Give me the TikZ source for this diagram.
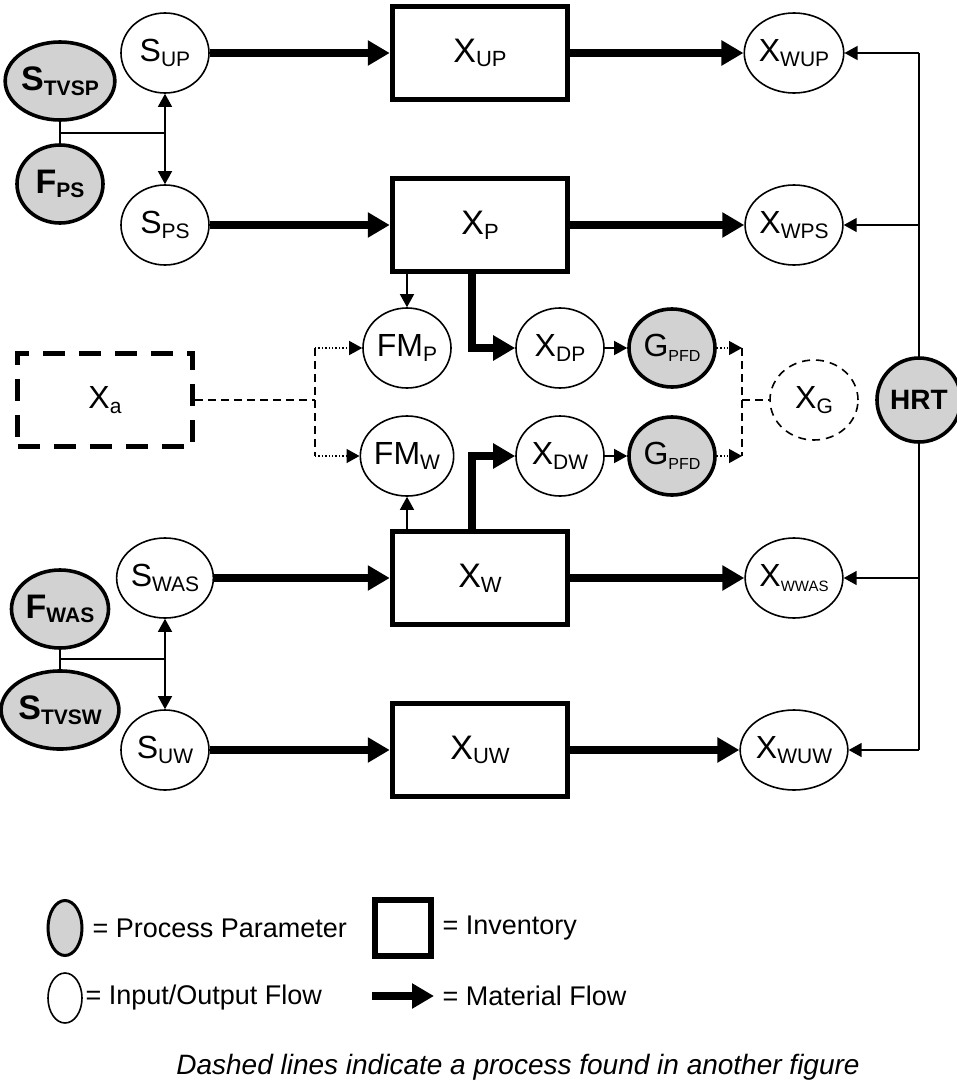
\documentclass[tikz,border=0pt]{standalone}
\usepackage{fontspec}
\setmainfont{Liberation Sans}
\usetikzlibrary{shapes.geometric,arrows.meta,positioning}

\newcommand{\lbl}[3][21]{#2\raisebox{-0.14em}{\fontsize{#1}{#1}\selectfont #3}}

\begin{document}
\begin{tikzpicture}[x=1pt,y=-1pt,
                flow/.style={ellipse,draw=black,line width=1.6pt,fill=white,minimum width=88pt,minimum height=80pt,inner sep=0pt,font=\fontsize{32}{34}\selectfont},
                param/.style={ellipse,draw=black,line width=3.6pt,fill=gray!35,minimum width=86pt,minimum height=78pt,inner sep=0pt,font=\fontsize{34}{36}\selectfont\bfseries},
                inv/.style={rectangle,draw=black,line width=5.5pt,fill=white,minimum width=175pt,minimum height=93pt,font=\fontsize{34}{36}\selectfont},
                mat/.style={line width=7.5pt,-{Triangle[length=22pt,width=24pt]}},
                sig/.style={line width=1.4pt,-{Triangle[length=13pt,width=14pt]}},
                dots/.style={line width=1.4pt,dash pattern=on 1.4pt off 2pt,-{Triangle[length=13pt,width=14pt]}},
                other/.style={line width=1.4pt,dash pattern=on 8pt off 5pt},
                key/.style={anchor=west,font=\fontsize{27}{29}\selectfont},
            ]
                \useasboundingbox (0,0) rectangle (956,1092);

                \node[param] (stvsp) at (60,81) {\lbl{S}{\bfseries TVSP}};
                \node[param] (fps) at (60,184) {\lbl{F}{\bfseries PS}};
                \node[flow] (sup) at (165,53) {\lbl{S}{UP}};
                \node[flow] (sps) at (165,225) {\lbl{S}{PS}};
                \node[inv] (xup) at (480,53) {\lbl[22]{X}{UP}};
                \node[inv] (xp) at (480,225) {\lbl[22]{X}{P}};
                \node[flow] (xwup) at (794,53) {\lbl{X}{WUP}};
                \node[flow] (xwps) at (794,225) {\lbl{X}{WPS}};

                \node[flow] (fmp) at (407,348) {\lbl{FM}{P}};
                \node[flow] (xdp) at (560,348) {\lbl{X}{DP}};
                \node[param,font=\fontsize{32}{34}\selectfont] (gp) at (672,348) {\lbl[16]{G}{PFD}};
                \node[flow] (fmw) at (407,456) {\lbl{FM}{W}};
                \node[flow] (xdw) at (560,456) {\lbl{X}{DW}};
                \node[param,font=\fontsize{32}{34}\selectfont] (gw) at (672,456) {\lbl[16]{G}{PFD}};

                \node[inv,dash pattern=on 22pt off 14pt,font=\fontsize{32}{34}\selectfont] (xa) at (105,400) {\lbl{X}{a}};
                \node[flow,dash pattern=on 8pt off 6pt] (xg) at (814,400) {\lbl{X}{G}};
                \node[param,font=\fontsize{28}{30}\selectfont\bfseries,minimum width=84pt,minimum height=84pt] (hrt) at (919,400) {HRT};

                \node[param] (fwas) at (60,609) {\lbl{F}{\bfseries WAS}};
                \node[param] (stvsw) at (60,710) {\lbl{S}{\bfseries TVSW}};
                \node[flow] (swas) at (165,578) {\lbl{S}{WAS}};
                \node[flow] (suw) at (165,750) {\lbl{S}{UW}};
                \node[inv] (xw) at (480,578) {\lbl[22]{X}{W}};
                \node[inv] (xuw) at (480,750) {\lbl[22]{X}{UW}};
                \node[flow] (xwwas) at (794,578) {\lbl[15]{X}{WWAS}};
                \node[flow] (xwuw) at (794,750) {\lbl{X}{WUW}};

                \coordinate (j1) at (165,133);
                \coordinate (j2) at (165,659);
                \coordinate (dl1) at (315,348);
                \coordinate (dl2) at (315,456);
                \coordinate (dlm) at (315,400);
                \coordinate (dr1) at (742,348);
                \coordinate (dr2) at (742,456);
                \coordinate (drm) at (742,400);
                \coordinate (hu) at (919,53);
                \coordinate (hp) at (919,225);
                \coordinate (hw) at (919,578);
                \coordinate (hd) at (919,750);

% material flow through the four lines
                \draw[mat] (sup) -- (xup);
                \draw[mat] (xup) -- (xwup);
                \draw[mat] (sps) -- (xp);
                \draw[mat] (xp) -- (xwps);
                \draw[mat] (swas) -- (xw);
                \draw[mat] (xw) -- (xwwas);
                \draw[mat] (suw) -- (xuw);
                \draw[mat] (xuw) -- (xwuw);
                \draw[mat] ([xshift=-8pt]xp.south) |- (xdp);
                \draw[mat] ([xshift=-8pt]xw.north) |- (xdw);

                \draw[line width=1.4pt] (stvsp) -- (fps);
                \draw[line width=1.4pt] (stvsp |- j1) -- (j1);
                \draw[sig] (j1) -- (sup);
                \draw[sig] (j1) -- (sps);
                \draw[line width=1.4pt] (fwas) -- (stvsw);
                \draw[line width=1.4pt] (fwas |- j2) -- (j2);
                \draw[sig] (j2) -- (swas);
                \draw[sig] (j2) -- (suw);

                \draw[sig] (xp.south -| fmp) -- (fmp);
                \draw[sig] (xw.north -| fmw) -- (fmw);
                \draw[sig] (xdp) -- (gp);
                \draw[sig] (xdw) -- (gw);

                \draw[other] (xa) -- (dlm);
                \draw[other] (dl1) -- (dl2);
                \draw[dots] (dl1) -- (fmp);
                \draw[dots] (dl2) -- (fmw);
                \draw[dots] (gp) -- (dr1);
                \draw[dots] (gw) -- (dr2);
                \draw[other] (dr1) -- (dr2);
                \draw[other] (drm) -- (xg);

                \draw[line width=1.4pt] (hrt) -- (hu);
                \draw[line width=1.4pt] (hrt) -- (hd);
                \draw[sig] (hu) -- (xwup);
                \draw[sig] (hp) -- (xwps);
                \draw[sig] (hw) -- (xwwas);
                \draw[sig] (hd) -- (xwuw);

% legend
                \node[param,minimum width=34pt,minimum height=55pt,line width=3pt] (kpar) at (65,928) {};
                \node[key] (tpar) at (89,928) {= Process Parameter};
                \node[inv,minimum width=56pt,minimum height=56pt] (kinv) at (403,928) {};
                \node[key] (tinv) at (439,928) {= Inventory};
                \node[flow,minimum width=34pt,minimum height=50pt] (kflow) at (65,998) {};
                \node[key] (tflow) at (82,998) {= Input/Output Flow};
                \coordinate (ka) at (372,996);
                \coordinate (kb) at (434,996);
                \draw[mat] (ka) -- (kb);
                \node[key] (tmat) at (439,996) {= Material Flow};
                \node[font=\fontsize{28}{30}\selectfont\itshape] (note) at (518,1067) {Dashed lines indicate a process found in another figure};
            \end{tikzpicture}
\end{document}
